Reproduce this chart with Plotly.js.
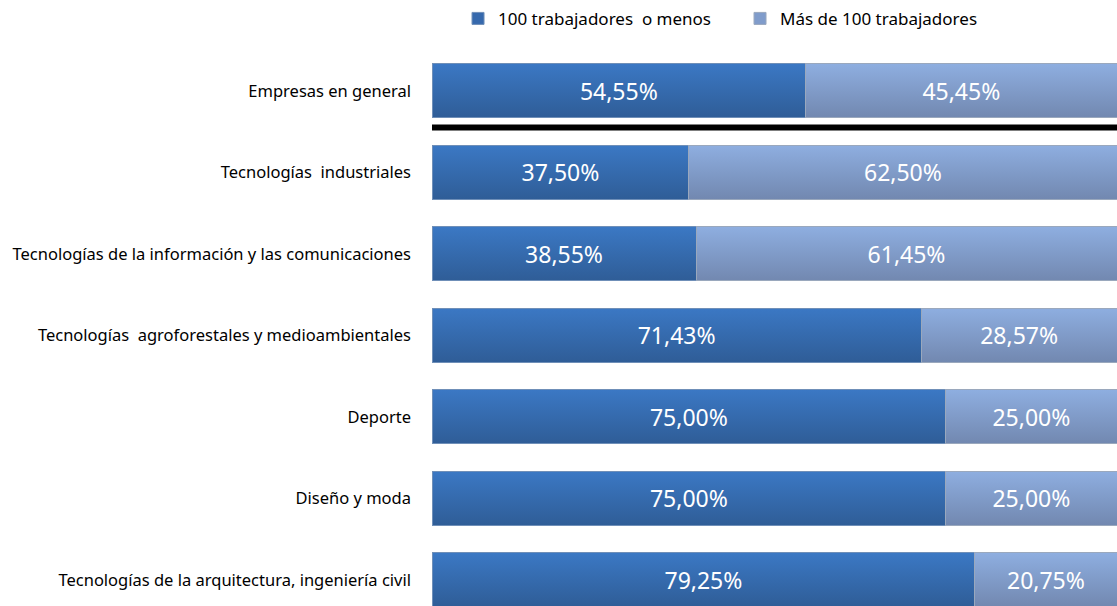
<!DOCTYPE html>
<html><head><meta charset="utf-8">
<script src="https://cdn.plot.ly/plotly-3.0.1.min.js"></script>
<style>html,body{margin:0;padding:0;background:#fff}#c{width:1117px;height:606px}</style>
</head><body><div id="c"></div>
<script>
const categories = [
  "Empresas en general",
  "Tecnologías  industriales",
  "Tecnologías de la información y las comunicaciones",
  "Tecnologías  agroforestales y medioambientales",
  "Deporte",
  "Diseño y moda",
  "Tecnologías de la arquitectura, ingeniería civil"
];
const seriesNames = ["100 trabajadores  o menos", "Más de 100 trabajadores"];
const small = [54.55, 37.50, 38.55, 71.43, 75.00, 75.00, 79.25];
const large = [45.45, 62.50, 61.45, 28.57, 25.00, 25.00, 20.75];

const common = {
  type: 'bar', orientation: 'h', y: categories,
  texttemplate: '%{x:.2f}%', textposition: 'inside', insidetextanchor: 'middle',
  textfont: {family: 'Noto Sans', size: 23, color: '#ffffff'},
  constraintext: 'none', hoverinfo: 'skip'
};
const data = [
  Object.assign({}, common, {x: small, name: seriesNames[0],
    marker: {color: '#3669ad', line: {color: '#6f8fb8', width: 1}}}),
  Object.assign({}, common, {x: large, name: seriesNames[1],
    marker: {color: '#809ccb', line: {color: '#9aa8bd', width: 1}}})
];
const layout = {
  width: 1117, height: 606,
  margin: {l: 432, r: 0, t: 50, b: 0, pad: 0},
  paper_bgcolor: '#ffffff', plot_bgcolor: '#ffffff',
  barmode: 'stack', bargap: 0.34,
  separators: ',.',
  font: {family: 'Noto Sans', color: '#000000'},
  xaxis: {range: [0, 100], visible: false, fixedrange: true},
  yaxis: {type: 'category', range: [6.322, -0.5], showgrid: false, zeroline: false,
    showline: false, ticks: '', ticklabelstandoff: 20,
    tickfont: {family: 'Noto Sans', size: 16.5, color: '#000000'}},
  showlegend: true,
  legend: {orientation: 'h', x: 0.038, xanchor: 'left', y: 1.056, yanchor: 'middle',
    font: {family: 'Noto Sans', size: 17, color: '#000000'}, traceorder: 'normal',
    entrywidth: 237, entrywidthmode: 'pixels'},
  shapes: [{type: 'line', xref: 'paper', yref: 'y', x0: 0, x1: 1, y0: 0.45, y1: 0.45,
    line: {color: '#000000', width: 6}}]
};
Plotly.newPlot('c', data, layout, {displayModeBar: false, staticPlot: true}).then(function (gd) {
  const svg = gd.querySelector('svg.main-svg');
  const ns = 'http://www.w3.org/2000/svg';
  let defs = svg.querySelector('defs');
  if (!defs) { defs = document.createElementNS(ns, 'defs'); svg.insertBefore(defs, svg.firstChild); }
  const grads = [['gDark', '#3b78c4', '#2f5d97'], ['gLight', '#8eaee0', '#7288b0']];
  grads.forEach(function (g) {
    const lg = document.createElementNS(ns, 'linearGradient');
    lg.setAttribute('id', g[0]); lg.setAttribute('x1', '0'); lg.setAttribute('y1', '0');
    lg.setAttribute('x2', '0'); lg.setAttribute('y2', '1');
    [[0, g[1]], [1, g[2]]].forEach(function (s) {
      const st = document.createElementNS(ns, 'stop');
      st.setAttribute('offset', s[0]); st.setAttribute('stop-color', s[1]);
      lg.appendChild(st);
    });
    defs.appendChild(lg);
  });
  const traces = gd.querySelectorAll('.barlayer .trace');
  traces.forEach(function (t, i) {
    t.querySelectorAll('.point path').forEach(function (p) {
      p.style.fill = 'url(#' + grads[i][0] + ')';
    });
  });
});
</script></body></html>
